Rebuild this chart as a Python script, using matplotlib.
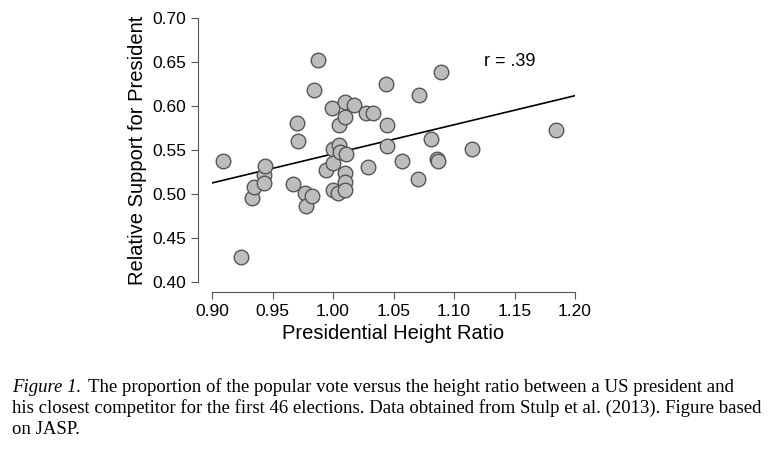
import numpy as np
import matplotlib.pyplot as plt

# height ratio vs relative support
height_ratio = [0.909, 0.924, 0.933, 0.935, 0.943, 0.944, 0.943, 0.967, 0.970, 0.971,
                0.977, 0.978, 0.983, 0.984, 0.988, 0.994, 0.999, 1.000, 1.000, 1.000,
                1.004, 1.005, 1.005, 1.006, 1.010, 1.010, 1.011, 1.010, 1.010, 1.010,
                1.017, 1.027, 1.029, 1.033, 1.044, 1.045, 1.045, 1.057, 1.070, 1.071,
                1.081, 1.086, 1.087, 1.089, 1.115, 1.184]
support = [0.537, 0.428, 0.496, 0.508, 0.522, 0.532, 0.513, 0.511, 0.581, 0.560,
           0.501, 0.486, 0.498, 0.618, 0.652, 0.527, 0.598, 0.551, 0.535, 0.504,
           0.501, 0.578, 0.556, 0.548, 0.604, 0.588, 0.546, 0.524, 0.514, 0.504,
           0.601, 0.592, 0.531, 0.592, 0.625, 0.578, 0.554, 0.537, 0.517, 0.613,
           0.562, 0.540, 0.538, 0.639, 0.551, 0.573]
xticks = [0.90, 0.95, 1.00, 1.05, 1.10, 1.15, 1.20]
yticks = [0.40, 0.45, 0.50, 0.55, 0.60, 0.65, 0.70]

plt.rcParams['font.family'] = 'Liberation Sans'
W, H = 774, 457
fig = plt.figure(figsize=(W / 100, H / 100), dpi=100)
ax = fig.add_axes([212 / W, 1 - 282 / H, (575 - 212) / W, (282 - 18) / H])

x = np.array(height_ratio)
y = np.array(support)
b, a = np.polyfit(x, y, 1)
xl = np.array([0.90, 1.20])
ax.plot(xl, a + b * xl, color='black', lw=1.2, zorder=1)
ax.scatter(x, y, s=110, facecolor='#bdbdbd', edgecolor='#555555', lw=1.0, zorder=2)
ax.text(1.125, 0.65, 'r = .39', fontsize=13, va='center')

ax.set_xlim(0.90, 1.20)
ax.set_ylim(0.40, 0.70)
ax.set_xticks(xticks)
ax.set_yticks(yticks)
ax.set_xticklabels(['%.2f' % t for t in xticks])
ax.set_yticklabels(['%.2f' % t for t in yticks])
for s in ['top', 'right']:
    ax.spines[s].set_visible(False)
ax.spines['left'].set_position(('outward', 10))
ax.spines['bottom'].set_position(('outward', 7))
for s in ['left', 'bottom']:
    ax.spines[s].set_color('#555555')
ax.tick_params(labelsize=12.5, color='#555555', length=5)
ax.set_xlabel('Presidential Height Ratio', fontsize=14.5)
ax.set_ylabel('Relative Support for President', fontsize=14.5)

cap = dict(family='Liberation Serif', fontsize=13.5, va='baseline')
fig.text(12 / W, 1 - 392 / H, 'Figure 1.', style='italic', **cap)
fig.text(88 / W, 1 - 392 / H, 'The proportion of the popular vote versus the height ratio between a US president and', **cap)
fig.text(12 / W, 1 - 413 / H, 'his closest competitor for the first 46 elections. Data obtained from Stulp et al. (2013). Figure based', **cap)
fig.text(12 / W, 1 - 434 / H, 'on JASP.', **cap)

fig.savefig('out.png', dpi=100)
